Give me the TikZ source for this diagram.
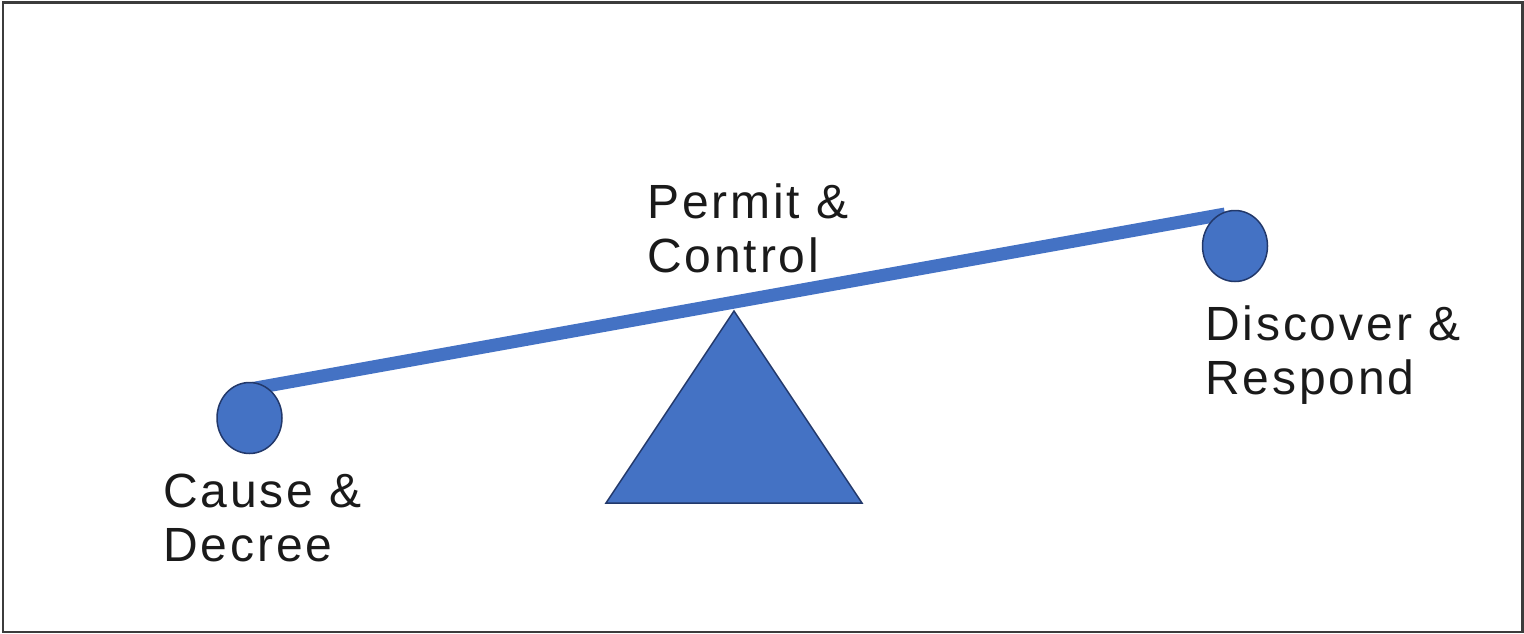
\documentclass[tikz,border=0pt]{standalone}
\usepackage{fontspec}
\setmainfont{Liberation Sans}[LetterSpace=6]
\usetikzlibrary{shapes.geometric}
\definecolor{seesaw}{HTML}{4472C4}
\definecolor{edgeblue}{HTML}{22386A}
\definecolor{frame}{HTML}{3C3C3C}
\definecolor{ink}{HTML}{1A1A1A}
\tikzset{
  weight/.style={ellipse, draw=edgeblue, line width=1.5pt, fill=seesaw, minimum width=65pt, minimum height=71pt, inner sep=0pt},
  beam/.style={draw=seesaw, line width=13pt},
  fulcrum/.style={draw=edgeblue, line width=1.5pt, fill=seesaw, line join=miter},
  label/.style={inner sep=0pt, anchor=base west, align=left, text=ink, font=\fontsize{48}{54}\selectfont}
}
\begin{document}
\begin{tikzpicture}[x=1pt,y=-1pt]
\useasboundingbox (0,0) rectangle (1524,634);
\draw[frame, line width=2.6pt] (3,2.5) rectangle (1522.5,632);
% beam
\coordinate (bL) at (250,389);
\coordinate (bR) at (1225,214);
\draw[beam] (bL) -- (bR);
% weights
\node[weight] (wL) at (249.5,418) {};
\node[weight] (wR) at (1235,246) {};
% fulcrum
\coordinate (apex) at (734,311);
\coordinate (baseL) at (606,503);
\coordinate (baseR) at (862,503);
\draw[fulcrum] (apex) -- (baseR) -- (baseL) -- cycle;
% labels (anchor = baseline of the last line)
\node[label] (permit) at (647,272) {Permit \&\\Control};
\node[label] (cause) at (163,561) {Cause \&\\Decree};
\node[label] (discover) at (1205,394) {Discover \&\\Respond};
\end{tikzpicture}
\end{document}
